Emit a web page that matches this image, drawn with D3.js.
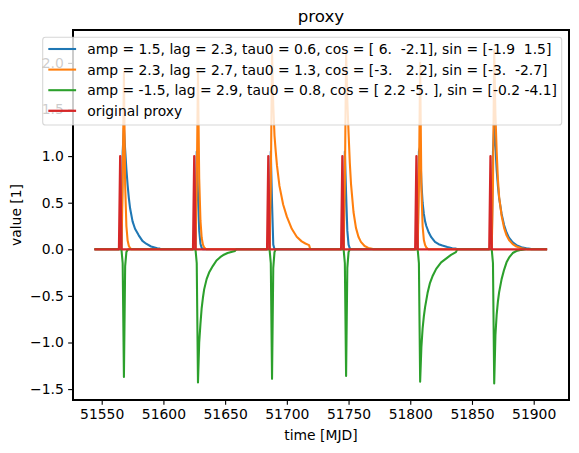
<!DOCTYPE html>
<html>
<head>
<meta charset="utf-8">
<script src="https://cdn.jsdelivr.net/npm/d3@7"></script>
<style>
  html, body { margin: 0; padding: 0; background: #fff; }
  svg { display: block; font-family: "DejaVu Sans", sans-serif; }
</style>
</head>
<body>
<svg id="chart" width="579" height="453"></svg>
<script>
// ---------------- data ----------------
const chartTitle = "proxy";
const xLabel = "time [MJD]";
const yLabel = "value [1]";
const xTicks = [51550, 51600, 51650, 51700, 51750, 51800, 51850, 51900];
const yTicks = [-1.5, -1.0, -0.5, 0.0, 0.5, 1.0, 1.5, 2.0];
const seriesNames = [
  "amp = 1.5, lag = 2.3, tau0 = 0.6, cos = [ 6.  -2.1], sin = [-1.9  1.5]",
  "amp = 2.3, lag = 2.7, tau0 = 1.3, cos = [-3.   2.2], sin = [-3.  -2.7]",
  "amp = -1.5, lag = 2.9, tau0 = 0.8, cos = [ 2.2 -5. ], sin = [-0.2 -4.1]",
  "original proxy"
];
const seriesColors = ["#1f77b4", "#ff7f0e", "#2ca02c", "#d62728"];

const blueSeries = [
  [51545,0],
  [51566,0],[51567,1.05],[51568,1.3],[51569,1.07],[51570,0.86],[51571,0.69],[51572,0.55],[51573,0.44],
  [51575,0.3],[51577,0.22],[51580,0.15],[51583,0.09],[51586,0.06],[51590,0.03],[51595,0.012],[51597,0.008],[51598,0],
  [51626,0],[51627,1.05],[51628,0.6],[51629,0.2],[51630,0.06],[51631,0.015],[51632,0],
  [51686,0],[51687,1.05],[51688,0.5],[51689,0.05],[51690,0],
  [51746,0],[51747,1.05],[51748,0.6],[51749,0.2],[51750,0.05],[51751,0.01],[51752,0],
  [51806,0],[51807,1.05],[51808,1.1],[51809,0.72],[51810,0.5],[51811,0.38],[51812,0.3],[51813,0.25],
  [51815,0.18],[51817,0.13],[51820,0.08],[51823,0.055],[51826,0.04],[51830,0.025],[51834,0.012],[51837,0.008],[51838,0],
  [51866,0],[51867,1.05],[51868,1.33],[51869,1.1],[51870,0.85],[51871,0.68],[51872,0.55],[51874,0.38],
  [51876,0.26],[51878,0.18],[51880,0.125],[51883,0.075],[51886,0.045],[51890,0.022],[51894,0.01],[51897,0.005],[51898,0],
  [51910,0]
];

const orangeSeries = [
  [51545,0],
  [51566,0],[51567,0.69],[51568,1.89],[51569,0.69],[51570,0.25],[51571,0.094],[51572,0.035],[51573,0.013],[51574,0],
  [51626,0],[51627,0.69],[51628,1.9],[51629,0.76],[51630,0.31],[51631,0.124],[51632,0.05],[51633,0.02],[51634,0.008],[51635,0],
  [51686,0],[51687,0.69],[51688,2.12],[51689,1.55],[51690,1.22],[51691,1.05],[51692,0.9],[51694,0.68],[51697,0.48],
  [51700,0.35],[51704,0.22],[51708,0.135],[51712,0.085],[51715,0.062],[51718,0.045],[51719,0],
  [51746,0],[51747,0.69],[51748,2.12],[51749,1.6],[51750,1.25],[51751,0.93],[51752,0.7],[51754,0.4],[51756,0.23],
  [51758,0.135],[51760,0.08],[51763,0.035],[51766,0.015],[51769,0.005],[51770,0],
  [51806,0],[51807,0.69],[51808,2.0],[51809,0.65],[51810,0.25],[51811,0.1],[51812,0.045],[51813,0.02],[51814,0.008],[51815,0],
  [51866,0],[51867,0.69],[51868,2.14],[51869,1.45],[51870,1.05],[51871,0.75],[51872,0.56],[51874,0.36],[51876,0.23],
  [51878,0.15],[51880,0.1],[51883,0.055],[51886,0.03],[51890,0.012],[51894,0.004],[51895,0],
  [51910,0]
];

const greenSeries = [
  [51545,0],
  [51566,0],[51567,-0.15],[51568,-1.37],[51569,-0.18],[51570,-0.03],[51571,-0.005],[51572,0],
  [51626,0],[51627,-0.15],[51628,-1.43],[51629,-1.0],[51630,-0.8],[51631,-0.63],[51632,-0.52],[51633,-0.43],
  [51635,-0.32],[51637,-0.25],[51640,-0.18],[51643,-0.12],[51646,-0.085],[51649,-0.058],[51652,-0.04],[51655,-0.028],[51658,-0.018],[51659,0],
  [51686,0],[51687,-0.15],[51688,-1.39],[51689,-0.2],[51690,-0.03],[51691,0],
  [51746,0],[51747,-0.15],[51748,-1.36],[51749,-0.2],[51750,-0.03],[51751,0],
  [51806,0],[51807,-0.15],[51808,-1.42],[51809,-1.05],[51810,-0.85],[51811,-0.72],[51812,-0.62],[51814,-0.47],
  [51816,-0.36],[51818,-0.29],[51821,-0.21],[51825,-0.14],[51829,-0.1],[51833,-0.06],[51837,-0.03],[51838,0],
  [51866,0],[51867,-0.15],[51868,-1.44],[51869,-0.92],[51870,-0.7],[51871,-0.56],[51872,-0.46],[51874,-0.32],
  [51876,-0.22],[51878,-0.14],[51880,-0.09],[51883,-0.04],[51886,-0.018],[51890,-0.006],[51894,0],
  [51910,0]
];

const proxySeries = [
  [51545,0],
  [51564,0],[51565,1],[51566,0],
  [51624,0],[51625,1],[51626,0],
  [51684,0],[51685,1],[51686,0],
  [51744,0],[51745,1],[51746,0],
  [51804,0],[51805,1],[51806,0],
  [51864,0],[51865,1],[51866,0],
  [51910,0]
];

const allSeries = [blueSeries, orangeSeries, greenSeries, proxySeries];

// ---------------- layout ----------------
const W = 579, H = 453;
const plot = { left: 73, right: 569, top: 30, bottom: 400 };
const fs = 13.9;

const svg = d3.select("#chart");

const x = d3.scaleLinear().domain([51526.75, 51928.6]).range([plot.left, plot.right]);
const y = d3.scaleLinear().domain([-1.617, 2.353]).range([plot.bottom, plot.top]);

const fmtY = v => d3.format(".1f")(v).replace("-", "\u2212");

svg.append("defs").append("clipPath").attr("id", "clip")
  .append("rect")
  .attr("x", plot.left).attr("y", plot.top)
  .attr("width", plot.right - plot.left).attr("height", plot.bottom - plot.top);

// lines
const line = d3.line().x(d => x(d[0])).y(d => y(d[1]));
const linesG = svg.append("g").attr("clip-path", "url(#clip)");
allSeries.forEach((s, i) => {
  linesG.append("path")
    .datum(s)
    .attr("d", line)
    .attr("fill", "none")
    .attr("stroke", seriesColors[i])
    .attr("stroke-width", i === 3 ? 2.3 : 2.08)
    .attr("stroke-linejoin", "round")
    .attr("stroke-linecap", "square");
});

// axes
const xAxis = d3.axisBottom(x).tickValues(xTicks).tickSize(4.86).tickPadding(4.4).tickFormat(d3.format("d"));
const yAxis = d3.axisLeft(y).tickValues(yTicks).tickSize(4.86).tickPadding(4.4).tickFormat(fmtY);

const gx = svg.append("g").attr("transform", `translate(0,${plot.bottom})`).call(xAxis);
const gy = svg.append("g").attr("transform", `translate(${plot.left},0)`).call(yAxis);
[gx, gy].forEach(g => {
  g.select(".domain").remove();
  g.selectAll(".tick line").attr("stroke", "#000").attr("stroke-width", 1.11);
  g.selectAll(".tick text").attr("fill", "#000").attr("font-size", fs).attr("font-family", "DejaVu Sans");
});

// frame (spines)
svg.append("rect")
  .attr("x", plot.left).attr("y", plot.top)
  .attr("width", plot.right - plot.left).attr("height", plot.bottom - plot.top)
  .attr("fill", "none").attr("stroke", "#000").attr("stroke-width", 1.11)
  .attr("shape-rendering", "crispEdges");

// title & labels
svg.append("text").attr("x", (plot.left + plot.right) / 2).attr("y", 21.7)
  .attr("text-anchor", "middle").attr("font-size", 16.67).text(chartTitle);
svg.append("text").attr("x", (plot.left + plot.right) / 2).attr("y", 439.5)
  .attr("text-anchor", "middle").attr("font-size", fs).text(xLabel);
svg.append("text")
  .attr("transform", `translate(20.5,${(plot.top + plot.bottom) / 2}) rotate(-90)`)
  .attr("text-anchor", "middle").attr("font-size", fs).text(yLabel);

// legend
const leg = { right: 561.7, top: 37.3, left: 42.7, bottom: 125 };
const lg = svg.append("g");
lg.append("rect")
  .attr("x", leg.left).attr("y", leg.top)
  .attr("width", leg.right - leg.left).attr("height", leg.bottom - leg.top)
  .attr("rx", 2.8).attr("ry", 2.8)
  .attr("fill", "#fff").attr("fill-opacity", 0.8)
  .attr("stroke", "#cccccc").attr("stroke-opacity", 0.8).attr("stroke-width", 1.1);
const rowY = [49, 69.6, 90.2, 110.8];
seriesNames.forEach((name, i) => {
  lg.append("line")
    .attr("x1", 48.3).attr("x2", 76.1).attr("y1", rowY[i]).attr("y2", rowY[i])
    .attr("stroke", seriesColors[i]).attr("stroke-width", i === 3 ? 2.3 : 2.08);
  lg.append("text")
    .attr("x", 87.2).attr("y", rowY[i] + 5.2)
    .attr("font-size", fs)
    .style("white-space", "pre")
    .attr("xml:space", "preserve")
    .text(name);
});
</script>
</body>
</html>
